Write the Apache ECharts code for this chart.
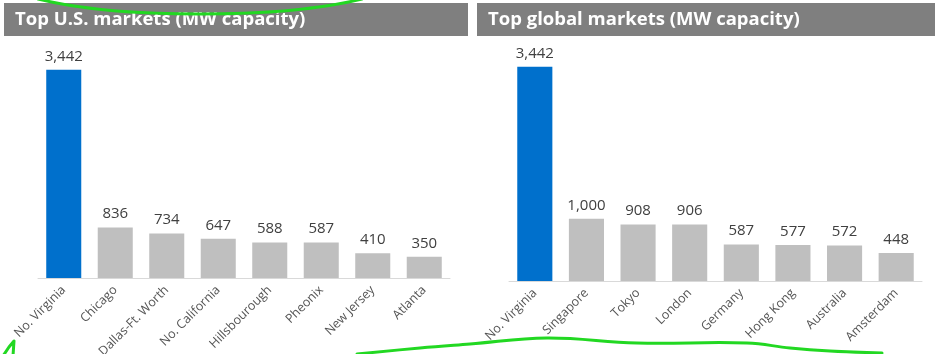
<!DOCTYPE html>
<html>
<head>
<meta charset="utf-8">
<script src="https://cdn.jsdelivr.net/npm/echarts@6/dist/echarts.min.js"></script>
<style>
  html, body { margin: 0; padding: 0; background: #fff; }
  #chart { width: 935px; height: 354px; }
</style>
</head>
<body>
<div id="chart"></div>
<script>
// Data-center capacity by market, in MW
const usMarkets = ['No. Virginia', 'Chicago', 'Dallas-Ft. Worth', 'No. California', 'Hillsbourough', 'Pheonix', 'New Jersey', 'Atlanta'];
const usCapacity = [3442, 836, 734, 647, 588, 587, 410, 350];

const globalMarkets = ['No. Virginia', 'Singapore', 'Tokyo', 'London', 'Germany', 'Hong Kong', 'Australia', 'Amsterdam'];
const globalCapacity = [3442, 1000, 908, 906, 587, 577, 572, 448];

const panelTitles = ['Top U.S. markets (MW capacity)', 'Top global markets (MW capacity)'];

const FONT = '"Open Sans", Lato, sans-serif';
const BLUE = '#0070cc';
const GRAY = '#bfbfbf';

// First market in each list is the leader and gets the accent colour
function barData(values) {
  return values.map((v, i) => ({ value: v, itemStyle: { color: i === 0 ? BLUE : GRAY } }));
}

function xAxisFor(cats, gridIndex) {
  return {
    type: 'category',
    gridIndex,
    data: cats,
    axisLine: { lineStyle: { color: '#d9d9d9', width: 1 } },
    axisTick: { show: false },
    axisLabel: {
      rotate: 45,
      interval: 0,
      margin: 10,
      color: '#555555',
      fontFamily: FONT,
      fontSize: 12.5
    }
  };
}

function yAxisFor(gridIndex) {
  return {
    type: 'value',
    gridIndex,
    min: 0,
    max: 4000,
    show: false,
    splitLine: { show: false }
  };
}

function barSeries(values, idx) {
  return {
    type: 'bar',
    xAxisIndex: idx,
    yAxisIndex: idx,
    data: barData(values),
    barCategoryGap: '32%',
    label: {
      show: true,
      position: 'top',
      distance: 6,
      color: '#404040',
      fontFamily: FONT,
      fontSize: 15,
      formatter: p => p.value.toLocaleString('en-US')
    },
    silent: true,
    animation: false
  };
}

// Green pen strokes circling the headline figures
const penStyle = { stroke: '#22d822', lineWidth: 3, fill: null, lineCap: 'round', lineJoin: 'round' };

const chart = echarts.init(document.getElementById('chart'), null, { renderer: 'canvas' });
chart.setOption({
  animation: false,
  grid: [
    { left: 38, width: 412, top: 36, bottom: 76, outerBoundsMode: 'none', containLabel: false },
    { left: 509, right: 13, top: 32, bottom: 73, outerBoundsMode: 'none', containLabel: false }
  ],
  xAxis: [xAxisFor(usMarkets, 0), xAxisFor(globalMarkets, 1)],
  yAxis: [yAxisFor(0), yAxisFor(1)],
  series: [barSeries(usCapacity, 0), barSeries(globalCapacity, 1)],
  graphic: [
    { type: 'rect', shape: { x: 4, y: 3, width: 464, height: 33 }, style: { fill: '#7f7f7f' }, z: 0 },
    { type: 'rect', shape: { x: 477, y: 3, width: 458, height: 33 }, style: { fill: '#7f7f7f' }, z: 0 },
    {
      type: 'text', x: 15, y: 20, z: 1,
      style: { text: panelTitles[0], fill: '#fff', font: 'bold 18.5px ' + FONT, verticalAlign: 'middle' }
    },
    {
      type: 'text', x: 488, y: 20, z: 1,
      style: { text: panelTitles[1], fill: '#fff', font: 'bold 18.5px ' + FONT, verticalAlign: 'middle' }
    },
    {
      type: 'bezierCurve', z: 10,
      shape: { x1: 38, y1: -1, cpx1: 120, cpy1: 19, cpx2: 280, cpy2: 19, x2: 362, y2: -1 },
      style: penStyle
    },
    {
      type: 'polyline', z: 10,
      shape: { points: [[3, 356], [9, 347], [14, 341], [13, 356]] },
      style: penStyle
    },
    {
      type: 'polyline', z: 10,
      shape: {
        smooth: 0.4,
        points: [[357, 354], [420, 348], [470, 344], [547, 338], [637, 343], [747, 343], [790, 348], [830, 351], [882, 353]]
      },
      style: penStyle
    }
  ]
});
</script>
</body>
</html>
